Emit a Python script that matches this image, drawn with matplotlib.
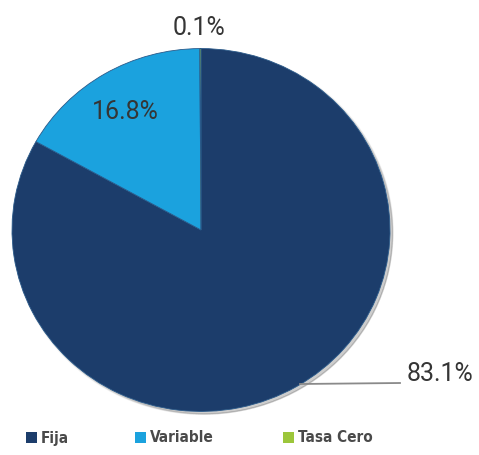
import matplotlib.pyplot as plt
from matplotlib.patches import Rectangle, Ellipse

labels = ['Fija', 'Variable', 'Tasa Cero']
shares = [83.1, 16.8, 0.1]
colors = ['#1c3d6b', '#1ba2de', '#9cc63b']
pct_text = ['83.1%', '16.8%', '0.1%']

W, H = 479, 455
sy = 0.96  # the pie is drawn slightly squashed vertically

fig = plt.figure(figsize=(W / 100, H / 100), dpi=100)
ax = fig.add_axes([0, 0, 1, 1])


def Y(py):
    # pixel row (from top) -> data y
    return (H - py) / sy


cx, cy, r = 201, Y(230), 189

# soft shadow under the pie
for i in range(4):
    ax.add_patch(Ellipse((cx + 2 + i * 0.8, cy - 2 - i * 0.8), 2 * (r + 1 - i), 2 * (r + 1 - i),
                         color='black', alpha=0.05, zorder=1))

ax.pie(shares, colors=colors, startangle=90, counterclock=False,
       center=(cx, cy), radius=r, frame=True,
       wedgeprops=dict(edgecolor='#2a5a8a', linewidth=0.6, zorder=2))
ax.set_aspect('auto')
ax.set_xlim(0, W)
ax.set_ylim(0, H / sy)
ax.axis('off')

txt = dict(fontsize=18, color='#353535', family='Roboto', ha='center', va='center')
ax.text(440, Y(374), pct_text[0], **txt)
ax.text(125, Y(112), pct_text[1], **txt)
ax.text(199, Y(28), pct_text[2], **txt)
ax.plot([300, 400], [Y(384), Y(383)], color='#8a8a8a', lw=1.3, zorder=3)

# legend row
lx = [26, 135, 283]
for x, lab, col in zip(lx, labels, colors):
    ax.add_patch(Rectangle((x, Y(443)), 11, 11 / sy, facecolor=col, edgecolor='none'))
    ax.text(x + 15, Y(438), lab, fontsize=11, fontweight='bold', fontstretch='condensed',
            color='#4a4a4a', family='DejaVu Sans', ha='left', va='center')

fig.savefig('out.png', dpi=100)
